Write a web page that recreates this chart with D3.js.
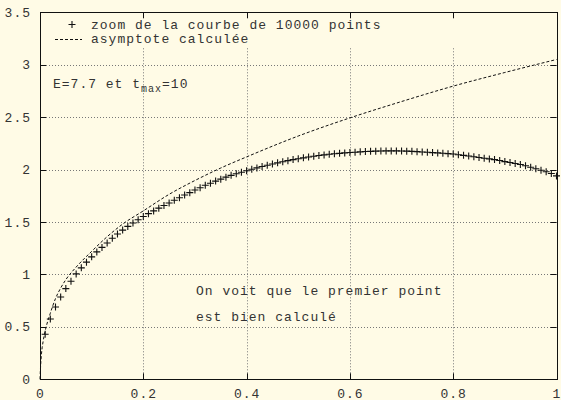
<!DOCTYPE html>
<html lang="fr">
<head>
  <meta charset="UTF-8" />
  <title>zoom de la courbe</title>
  <style>
    html, body { margin: 0; padding: 0; background: #fffbe6; }
    svg { display: block; }
    text { font-family: "Liberation Mono", "DejaVu Sans Mono", monospace; font-size: 13px; fill: #333; letter-spacing: 1px; }
  </style>
</head>
<body>
  <div id="chart"></div>
  <script src="https://d3js.org/d3.v7.min.js"></script>
  <script>
    const width = 561;
    const height = 400;

    // markers "+" : zoom de la courbe de 10000 points
    const curveX = [
      0.01, 0.02, 0.03, 0.04, 0.05, 0.06, 0.07, 0.08, 0.09, 0.10,
      0.11, 0.12, 0.13, 0.14, 0.15, 0.16, 0.17, 0.18, 0.19, 0.20,
      0.21, 0.22, 0.23, 0.24, 0.25, 0.26, 0.27, 0.28, 0.29, 0.30,
      0.31, 0.32, 0.33, 0.34, 0.35, 0.36, 0.37, 0.38, 0.39, 0.40,
      0.41, 0.42, 0.43, 0.44, 0.45, 0.46, 0.47, 0.48, 0.49, 0.50,
      0.51, 0.52, 0.53, 0.54, 0.55, 0.56, 0.57, 0.58, 0.59, 0.60,
      0.61, 0.62, 0.63, 0.64, 0.65, 0.66, 0.67, 0.68, 0.69, 0.70,
      0.71, 0.72, 0.73, 0.74, 0.75, 0.76, 0.77, 0.78, 0.79, 0.80,
      0.81, 0.82, 0.83, 0.84, 0.85, 0.86, 0.87, 0.88, 0.89, 0.90,
      0.91, 0.92, 0.93, 0.94, 0.95, 0.96, 0.97, 0.98, 0.99, 1.00
    ];
    const curveY = [
      0.43, 0.575, 0.69, 0.785, 0.865, 0.935, 1.005, 1.063, 1.117, 1.168,
      1.215, 1.258, 1.30, 1.345, 1.385, 1.423, 1.458, 1.49, 1.522, 1.553,
      1.58, 1.606, 1.632, 1.657, 1.682, 1.707, 1.732, 1.757, 1.78, 1.805,
      1.827, 1.85, 1.87, 1.89, 1.909, 1.928, 1.945, 1.961, 1.975, 1.989,
      2.003, 2.016, 2.029, 2.041, 2.053, 2.064, 2.075, 2.085, 2.095, 2.104,
      2.112, 2.12, 2.127, 2.134, 2.14, 2.146, 2.151, 2.155, 2.159, 2.163,
      2.166, 2.169, 2.172, 2.174, 2.176, 2.177, 2.178, 2.178, 2.178, 2.177,
      2.176, 2.174, 2.171, 2.168, 2.165, 2.162, 2.159, 2.156, 2.152, 2.148,
      2.142, 2.136, 2.13, 2.122, 2.115, 2.108, 2.102, 2.095, 2.086, 2.076,
      2.067, 2.058, 2.048, 2.036, 2.022, 2.008, 1.994, 1.98, 1.962, 1.94
    ];

    // dashed line : asymptote calculée
    const asymX = [0, 0.001, 0.003, 0.006, 0.01, 0.02, 0.03, 0.04, 0.05, 0.07, 0.1, 0.13, 0.16,
                   0.2, 0.25, 0.3, 0.35, 0.4, 0.5, 0.6, 0.7, 0.8, 0.9, 1.0];
    const asymY = [0, 0.11, 0.25, 0.36, 0.46, 0.63, 0.77, 0.87, 0.95, 1.07, 1.22, 1.36, 1.48,
                   1.606, 1.764, 1.896, 2.015, 2.121, 2.32, 2.493, 2.649, 2.796, 2.926, 3.05];

    const xTicks = [0, 0.2, 0.4, 0.6, 0.8, 1];
    const xTickLabels = ['0', '0.2', '0.4', '0.6', '0.8', '1'];
    const yTicks = [0, 0.5, 1, 1.5, 2, 2.5, 3, 3.5];
    const yTickLabels = ['0', '0.5', '1', '1.5', '2', '2.5', '3', '3.5'];

    const legendLabels = ['zoom de la courbe de 10000 points', 'asymptote calculée'];

    const plotLeft = 40, plotRight = 556.5, plotTop = 12.3, plotBottom = 379.3;
    const tickLen = 6;

    const svg = d3.select('#chart').append('svg')
      .attr('width', width)
      .attr('height', height);

    svg.append('rect')
      .attr('width', width).attr('height', height)
      .attr('fill', '#fffbe6');

    const x = d3.scaleLinear().domain([0, 1]).range([plotLeft, plotRight]);
    const y = d3.scaleLinear().domain([0, 3.5]).range([plotBottom, plotTop]);

    // grid
    const grid = svg.append('g')
      .attr('stroke', '#777')
      .attr('stroke-width', 1)
      .attr('stroke-dasharray', '1,2');
    grid.selectAll('line.gx')
      .data(xTicks.slice(1, -1))
      .enter().append('line')
        .attr('x1', d => Math.round(x(d)) + 0.5)
        .attr('x2', d => Math.round(x(d)) + 0.5)
        .attr('y1', y(0))
        .attr('y2', y(3.5));
    grid.selectAll('line.gy')
      .data(yTicks.slice(1, -1))
      .enter().append('line')
        .attr('x1', x(0))
        .attr('x2', x(1))
        .attr('y1', d => Math.round(y(d)) + 0.5)
        .attr('y2', d => Math.round(y(d)) + 0.5);

    // key area hides the grid
    svg.append('rect')
      .attr('x', x(0) + 1)
      .attr('y', y(3.5) + 1)
      .attr('width', x(1) - x(0) - 2)
      .attr('height', y(3.17) - y(3.5))
      .attr('fill', '#fffbe6');

    // asymptote
    const asym = asymX.map((d, i) => [d, asymY[i]]);
    svg.append('path')
      .datum(asym)
      .attr('fill', 'none')
      .attr('stroke', '#111')
      .attr('stroke-width', 1)
      .attr('stroke-dasharray', '3,2')
      .attr('d', d3.line().x(d => x(d[0])).y(d => y(d[1])).curve(d3.curveMonotoneX));

    // markers
    const plus = (g, cx, cy) => {
      g.append('path')
        .attr('d', `M${cx - 3.5},${cy}H${cx + 3.5}M${cx},${cy - 3.5}V${cy + 3.5}`)
        .attr('stroke', '#111')
        .attr('stroke-width', 1.1)
        .attr('fill', 'none');
    };
    const pts = svg.append('g');
    curveX.forEach((d, i) => plus(pts, x(d), y(curveY[i])));

    // border
    svg.append('rect')
      .attr('x', Math.round(x(0)) + 0.5)
      .attr('y', Math.round(y(3.5)) + 0.5)
      .attr('width', Math.round(x(1)) - Math.round(x(0)))
      .attr('height', Math.round(y(0)) - Math.round(y(3.5)))
      .attr('fill', 'none')
      .attr('stroke', '#111')
      .attr('stroke-width', 1);

    // ticks on all four sides
    const ticks = svg.append('g').attr('stroke', '#111').attr('stroke-width', 1);
    xTicks.forEach(d => {
      const px = Math.round(x(d)) + 0.5;
      ticks.append('line').attr('x1', px).attr('x2', px).attr('y1', y(0)).attr('y2', y(0) - tickLen);
      ticks.append('line').attr('x1', px).attr('x2', px).attr('y1', y(3.5)).attr('y2', y(3.5) + tickLen);
    });
    yTicks.forEach(d => {
      const py = Math.round(y(d)) + 0.5;
      ticks.append('line').attr('x1', x(0)).attr('x2', x(0) + tickLen).attr('y1', py).attr('y2', py);
      ticks.append('line').attr('x1', x(1)).attr('x2', x(1) - tickLen).attr('y1', py).attr('y2', py);
    });

    // tick labels
    svg.selectAll('text.xl')
      .data(xTicks)
      .enter().append('text')
        .attr('x', d => x(d) + 0.5)
        .attr('y', 397.5)
        .attr('text-anchor', 'middle')
        .text((d, i) => xTickLabels[i]);
    svg.selectAll('text.yl')
      .data(yTicks)
      .enter().append('text')
        .attr('x', 31)
        .attr('y', d => y(d) + 4.5)
        .attr('text-anchor', 'end')
        .text((d, i) => yTickLabels[i]);

    // legend
    plus(svg, 72, 24.5);
    svg.append('text').attr('x', 91).attr('y', 28.5).text(legendLabels[0]);
    svg.append('line')
      .attr('x1', 55).attr('x2', 82).attr('y1', 39.5).attr('y2', 39.5)
      .attr('stroke', '#111').attr('stroke-dasharray', '3,2');
    svg.append('text').attr('x', 91).attr('y', 43).text(legendLabels[1]);

    // labels
    const lab = svg.append('text').attr('x', 53).attr('y', 87.5);
    lab.append('tspan').text('E=7.7 et t');
    lab.append('tspan').attr('dy', 4).style('font-size', '10px').text('max');
    lab.append('tspan').attr('dy', -4).text('=10');

    svg.append('text').attr('x', 196).attr('y', 295).text('On voit que le premier point');
    svg.append('text').attr('x', 196).attr('y', 320.5).text('est bien calculé');
  </script>
</body>
</html>
